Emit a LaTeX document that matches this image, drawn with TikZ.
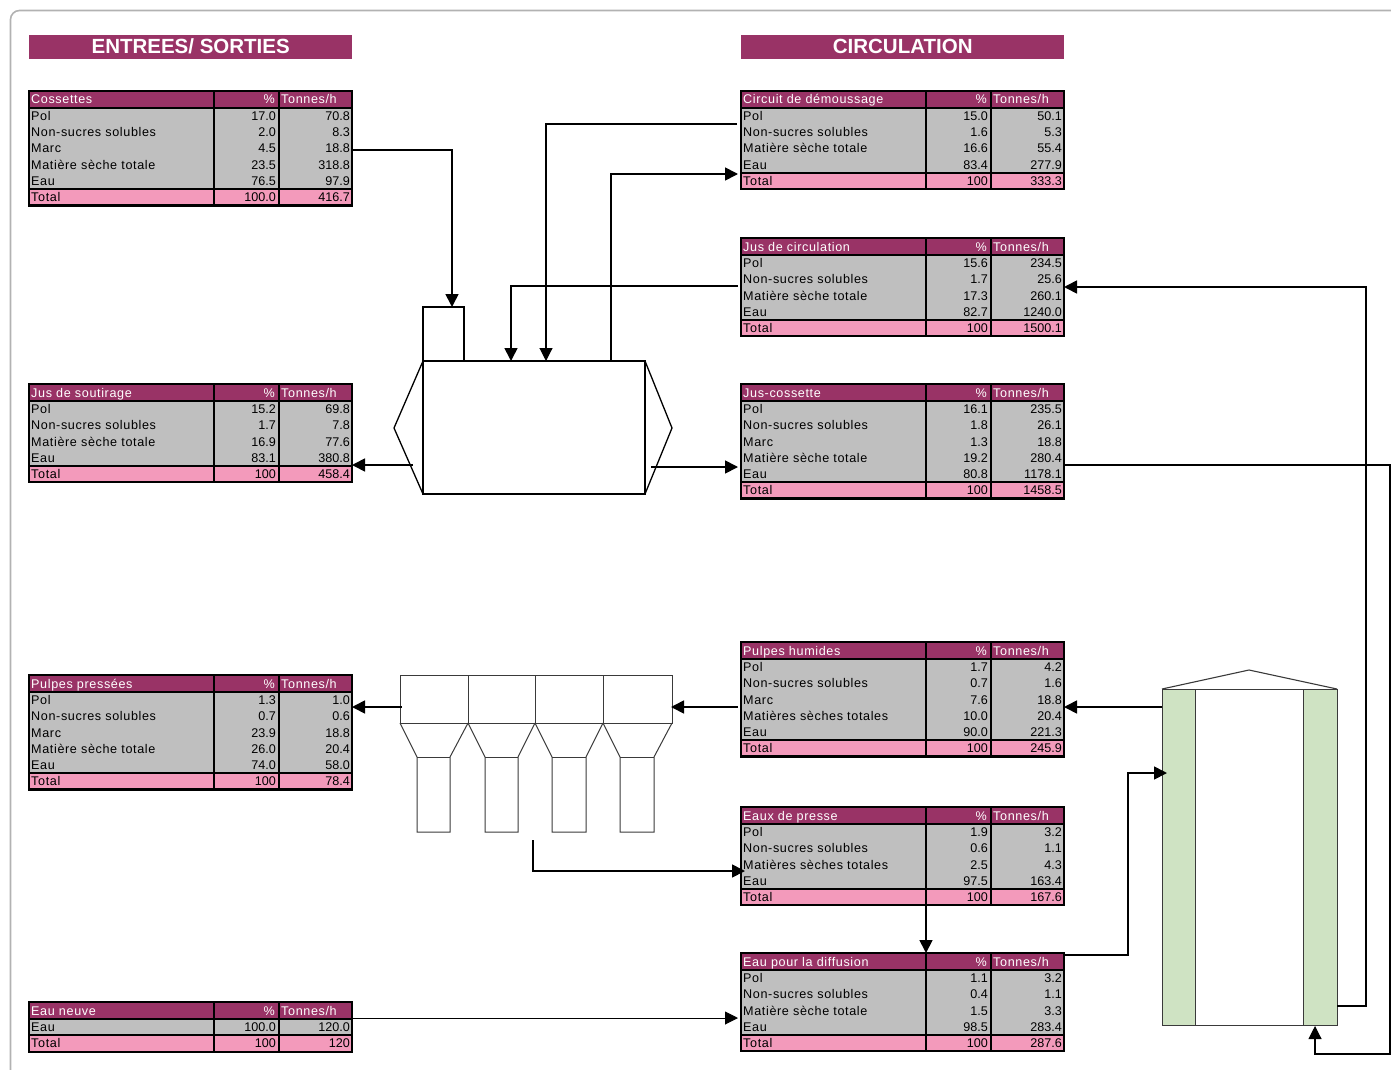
\documentclass[tikz,border=0pt]{standalone}
\usepackage{fontspec}
\setmainfont{Liberation Sans}
\newfontfamily\spacedfont[LetterSpace=5]{Liberation Sans}
\usetikzlibrary{arrows.meta}

\definecolor{plum}{HTML}{993366}
\definecolor{rowgrey}{HTML}{BFBFBF}
\definecolor{totalpink}{HTML}{F39ABB}
\definecolor{stripgreen}{HTML}{CFE3C3}
\definecolor{thinline}{HTML}{3A3A3A}

\tikzset{
  celltext/.style={inner sep=0pt, text height=10.5pt, text depth=1.5pt, font=\fontsize{12.6}{14}\selectfont},
  labeltext/.style={celltext, font=\fontsize{12.6}{14}\spacedfont},
  headtext/.style={labeltext, text=white},
  tableframe/.style={draw=black, line width=2.2pt, inner sep=0pt, outer sep=0pt},
  titlebar/.style={fill=plum, text=white, inner sep=0pt, minimum width=323pt, minimum height=24pt,
    text height=15pt, text depth=2.6pt, anchor=north west, font=\fontsize{20.5}{24}\selectfont\bfseries},
  flow/.style={line width=1.7pt, -{Triangle[length=13pt,width=13pt]}},
  flowthin/.style={line width=1.1pt, -{Triangle[length=13pt,width=13pt]}},
  vessel/.style={draw=black, line width=1.7pt, inner sep=0pt, outer sep=0pt},
  thinvessel/.style={draw=thinline, line width=1pt},
}

% name, left, top, title, number of rows, rows, total %, total t/h
\newcommand{\flowtable}[8]{
  \pgfmathsetmacro\rowsend{#3+17+#5*16.2}
  \pgfmathsetmacro\tableh{17+#5*16.2+16.5}
  \fill[plum] (#2,#3) rectangle (#2+323,#3+17);
  \fill[rowgrey] (#2,#3+17) rectangle (#2+323,\rowsend);
  \fill[totalpink] (#2,\rowsend) rectangle (#2+323,\rowsend+16.5);
  \node[headtext, anchor=west] (#1-t) at (#2+2,#3+8.5) {#4};
  \node[headtext, anchor=east] (#1-p) at (#2+246,#3+8.5) {\%};
  \node[headtext, anchor=west] (#1-u) at (#2+252,#3+8.5) {Tonnes/h};
  \foreach \lab/\pc/\tn [count=\r] in {#6} {
    \pgfmathsetmacro\ry{#3+17+(\r-0.5)*16.2}
    \node[labeltext, anchor=west] (#1-r\r) at (#2+2,\ry) {\lab};
    \node[celltext, anchor=east] (#1-r\r p) at (#2+247,\ry) {\pc};
    \node[celltext, anchor=east] (#1-r\r u) at (#2+321,\ry) {\tn};
  }
  \node[labeltext, anchor=west] (#1-s) at (#2+2,\rowsend+8.2) {Total};
  \node[celltext, anchor=east] (#1-sp) at (#2+247,\rowsend+8.2) {#7};
  \node[celltext, anchor=east] (#1-su) at (#2+321,\rowsend+8.2) {#8};
  \draw[line width=2.2pt] (#2,#3+17) -- (#2+323,#3+17);
  \draw[line width=2.2pt] (#2,\rowsend) -- (#2+323,\rowsend);
  \draw[line width=2.2pt] (#2+185,#3) -- (#2+185,#3+\tableh);
  \draw[line width=2.2pt] (#2+250,#3) -- (#2+250,#3+\tableh);
  \node[tableframe, anchor=north west, minimum width=323pt, minimum height=\tableh pt] (#1) at (#2,#3) {};
}

\begin{document}
\begin{tikzpicture}[x=1pt, y=-1pt]
\useasboundingbox (0,0) rectangle (1391,1070);
\draw[draw=black!30, line width=1.6pt, rounded corners=9pt] (10.5,1075) -- (10.5,10.5) -- (1396,10.5);

\node[titlebar] (inout) at (29,35) {ENTREES/ SORTIES};
\node[titlebar] (circ) at (741,35) {CIRCULATION};

\flowtable{cossettes}{29}{91}{Cossettes}{5}{Pol/17.0/70.8, Non-sucres solubles/2.0/8.3, Marc/4.5/18.8,
  Matière sèche totale/23.5/318.8, Eau/76.5/97.9}{100.0}{416.7}
\flowtable{soutirage}{29}{384}{Jus de soutirage}{4}{Pol/15.2/69.8, Non-sucres solubles/1.7/7.8,
  Matière sèche totale/16.9/77.6, Eau/83.1/380.8}{100}{458.4}
\flowtable{pressees}{29}{675}{Pulpes pressées}{5}{Pol/1.3/1.0, Non-sucres solubles/0.7/0.6, Marc/23.9/18.8,
  Matière sèche totale/26.0/20.4, Eau/74.0/58.0}{100}{78.4}
\flowtable{neuve}{29}{1002}{Eau neuve}{1}{Eau/100.0/120.0}{100}{120}
\flowtable{demoussage}{741}{91}{Circuit de démoussage}{4}{Pol/15.0/50.1, Non-sucres solubles/1.6/5.3,
  Matière sèche totale/16.6/55.4, Eau/83.4/277.9}{100}{333.3}
\flowtable{circulation}{741}{238}{Jus de circulation}{4}{Pol/15.6/234.5, Non-sucres solubles/1.7/25.6,
  Matière sèche totale/17.3/260.1, Eau/82.7/1240.0}{100}{1500.1}
\flowtable{juscos}{741}{384}{Jus-cossette}{5}{Pol/16.1/235.5, Non-sucres solubles/1.8/26.1, Marc/1.3/18.8,
  Matière sèche totale/19.2/280.4, Eau/80.8/1178.1}{100}{1458.5}
\flowtable{humides}{741}{642}{Pulpes humides}{5}{Pol/1.7/4.2, Non-sucres solubles/0.7/1.6, Marc/7.6/18.8,
  Matières sèches totales/10.0/20.4, Eau/90.0/221.3}{100}{245.9}
\flowtable{presse}{741}{807}{Eaux de presse}{4}{Pol/1.9/3.2, Non-sucres solubles/0.6/1.1,
  Matières sèches totales/2.5/4.3, Eau/97.5/163.4}{100}{167.6}
\flowtable{diffusion}{741}{953}{Eau pour la diffusion}{4}{Pol/1.1/3.2, Non-sucres solubles/0.4/1.1,
  Matière sèche totale/1.5/3.3, Eau/98.5/283.4}{100}{287.6}

% diffuser
\node[vessel, anchor=north west, minimum width=222pt, minimum height=133pt] (tank) at (423,361) {};
\node[vessel, anchor=south west, minimum width=41pt, minimum height=54pt] (feedbox) at (423,361) {};
\draw[line width=1.3pt] (tank.north west) -- (394,428) -- (tank.south west);
\draw[line width=1.3pt] (tank.north east) -- (672,428) -- (tank.south east);

% press
\draw[thinvessel] (400,675) rectangle (672,723);
\foreach \x/\l/\r/\e in {400/417/450/468, 468/485/518/535, 535/552/586/603, 603/620/654/672} {
  \draw[thinvessel] (\e,675) -- (\e,723);
  \draw[thinvessel] (\x,723) -- (\l,757) -- (\l,832) -- (\r,832) -- (\r,757) -- (\e,723);
  \draw[thinvessel] (\l,757) -- (\r,757);
}
\coordinate (pressout) at (402,707);
\coordinate (pressin) at (671,707);

% column
\node[draw=thinline, line width=1pt, fill=stripgreen, anchor=north west, minimum width=33pt, minimum height=336pt, inner sep=0pt, outer sep=0pt] (stripl) at (1162,689) {};
\node[draw=thinline, line width=1pt, fill=stripgreen, anchor=north west, minimum width=34pt, minimum height=336pt, inner sep=0pt, outer sep=0pt] (stripr) at (1303,689) {};
\draw[thinvessel] (stripl.north east) -- (stripr.north west);
\draw[thinvessel] (stripl.south east) -- (stripr.south west);
\draw[thinvessel, line width=1.1pt] (stripl.north west) -- (1249,670) -- (stripr.north east);

\foreach \n/\x/\y in {cosout/352/150, feedin/452/307, demout/737/124, topa/546/361, topb/611/361,
  demin/738/174, cirout/738/286, topc/511/361, tankr/651/467, jusin/738/467, tankl/413/465, souin/352/465,
  humout/738/707, preout/352/707, cakeout/533/840, cakein/745/871, sepout/926/904, sepin/926/953,
  difout/1064/955, colin/1167/773, colout/1162/707, humin/1064/707, recout/1337/1006, recin/1064/287,
  cosright/1064/465, colbot/1315/1026, neuout/352/1018, neuin/738/1018} {
  \coordinate (\n) at (\x,\y);
}

\draw[flow] (cosout) -| (feedin);
\draw[flowthin] (demout) -| (topa);
\draw[flow] (topb) |- (demin);
\draw[flow] (cirout) -| (topc);
\draw[flow] (tankr) -- (jusin);
\draw[flow] (tankl) -- (souin);
\draw[flow] (humout) -- (pressin);
\draw[flow] (pressout) -- (preout);
\draw[flow] (cakeout) |- (cakein);
\draw[flow] (sepout) -- (sepin);
\draw[flow] (difout) -- (1128,955) -- (1128,773) -- (colin);
\draw[flow] (colout) -- (humin);
\draw[flow] (recout) -- (1366,1006) -- (1366,287) -- (recin);
\draw[flowthin] (cosright) -- (1390,465) -- (1390,1054) -- (1315,1054) -- (colbot);
\draw[flowthin, line width=0.9pt] (neuout) -- (neuin);
\end{tikzpicture}
\end{document}
